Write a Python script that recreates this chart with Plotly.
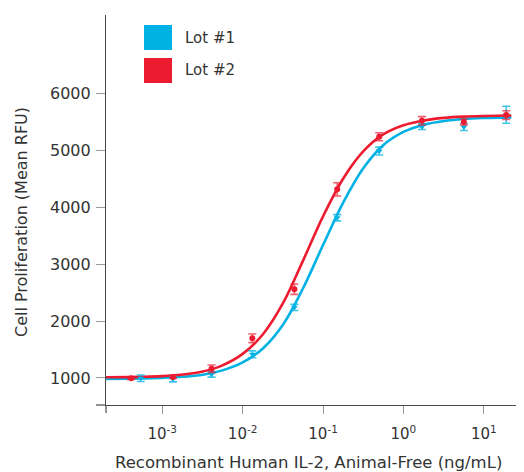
import plotly.graph_objects as go

# ---------------- data ----------------
series_names = ["Lot #1", "Lot #2"]
series_colors = ["#00b2e3", "#ed1b2f"]
error_colors = ["rgba(0,178,227,0.75)", "rgba(237,27,47,0.7)"]

lot1_conc = [0.00054, 0.00136, 0.0041, 0.0132, 0.044, 0.15, 0.5, 1.7, 5.65, 19.0]
lot1_rfu = [995, 982, 1065, 1417, 2243, 3819, 4991, 5419, 5415, 5630]
lot1_err = [58, 50, 50, 60, 55, 55, 70, 50, 62, 150]

lot2_conc = [0.00041, 0.00136, 0.0041, 0.0132, 0.044, 0.15, 0.5, 1.7, 5.65, 19.0]
lot2_rfu = [995, 1018, 1163, 1698, 2561, 4318, 5243, 5523, 5502, 5625]
lot2_err = [20, 25, 65, 76, 91, 117, 70, 73, 53, 76]

curve_conc = [0.0002, 0.00056, 0.001, 0.0018, 0.0032, 0.0056, 0.01, 0.018, 0.032,
              0.056, 0.1, 0.18, 0.32, 0.56, 1.0, 1.8, 3.2, 5.6, 10.0, 22.0]
lot1_curve = [985, 992, 1002, 1021, 1058, 1134, 1274, 1524, 1945, 2569, 3338,
              4096, 4697, 5094, 5328, 5455, 5521, 5555, 5572, 5583]
lot2_curve = [1012, 1020, 1032, 1060, 1114, 1222, 1424, 1774, 2324, 3056, 3843,
              4518, 4993, 5283, 5445, 5530, 5575, 5597, 5608, 5616]

x_tick_vals = [0.001, 0.01, 0.1, 1, 10]
x_tick_text = ["10<sup>-3</sup>", "10<sup>-2</sup>", "10<sup>-1</sup>", "10<sup>0</sup>", "10<sup>1</sup>"]
y_tick_vals = [1000, 2000, 3000, 4000, 5000, 6000]

x_title = "Recombinant Human IL-2, Animal-Free (ng/mL)"
y_title = "Cell Proliferation (Mean RFU)"

# ---------------- figure ----------------
FONT = "'DejaVu Sans', Verdana, sans-serif"
TXT = "#333333"
AX = "#4a4a4a"

fig = go.Figure()

series = [
    (lot1_conc, lot1_rfu, lot1_err, lot1_curve, "triangle-down"),
    (lot2_conc, lot2_rfu, lot2_err, lot2_curve, "circle"),
]

for i, (xc, yv, ye, yc, sym) in enumerate(series):
    fig.add_trace(go.Scatter(
        x=curve_conc, y=yc, mode="lines",
        line=dict(color=series_colors[i], width=2.6, shape="spline", smoothing=1.0),
        showlegend=False, hoverinfo="skip", name=series_names[i] + " fit",
    ))
for i, (xc, yv, ye, yc, sym) in enumerate(series):
    fig.add_trace(go.Scatter(
        x=xc, y=yv, mode="markers", name=series_names[i],
        marker=dict(color=series_colors[i], size=6, symbol=sym),
        error_y=dict(type="data", array=ye, visible=True,
                     color=error_colors[i], thickness=1.6, width=4),
        showlegend=False,
    ))

# geometry: the page body adds an 8px offset, so work in screen px and subtract it
OFF = 8
W, H = 524 - OFF, 472 - OFF
plot_left, plot_right, plot_top, plot_bottom = 106, 524, 15, 405
ml = plot_left - OFF
mt = plot_top - OFF
mr = (524 - plot_right)
mb = H - (plot_bottom - OFF)
pw, ph = plot_right - plot_left, plot_bottom - plot_top

def px_x(px):
    return (px - plot_left) / pw

def px_y(py):
    return 1 - (py - plot_top) / ph

shapes = []
annotations = []
# legend swatches
for i, name in enumerate(series_names):
    top = 25 + i * 33
    shapes.append(dict(type="rect", xref="paper", yref="paper",
                       x0=px_x(144), x1=px_x(172), y0=px_y(top + 25), y1=px_y(top),
                       fillcolor=series_colors[i], line=dict(width=0), layer="above"))
    annotations.append(dict(xref="paper", yref="paper", x=px_x(183), y=px_y(top + 12.5),
                            text=name, showarrow=False, xanchor="left", yanchor="middle",
                            font=dict(family=FONT, size=15, color=TXT)))

# axis titles
annotations.append(dict(xref="paper", yref="paper", x=px_x(308), y=px_y(463),
                        text=x_title, showarrow=False, xanchor="center", yanchor="middle",
                        font=dict(family=FONT, size=16.5, color=TXT)))
annotations.append(dict(xref="paper", yref="paper", x=px_x(21), y=px_y(222),
                        text=y_title, showarrow=False, xanchor="center", yanchor="middle",
                        textangle=-90, font=dict(family=FONT, size=16, color=TXT)))

# little axis overhangs at the origin
shapes.append(dict(type="line", xref="paper", yref="paper", x0=0, x1=0,
                   y0=0, y1=px_y(413), line=dict(color=AX, width=1.2)))
shapes.append(dict(type="line", xref="paper", yref="paper", x0=px_x(96), x1=0,
                   y0=0, y1=0, line=dict(color=AX, width=1.2)))

fig.update_layout(
    width=W, height=H,
    margin=dict(l=ml, r=mr, t=mt, b=mb, pad=0),
    paper_bgcolor="white", plot_bgcolor="rgba(0,0,0,0)",
    font=dict(family=FONT, size=15, color=TXT),
    shapes=shapes, annotations=annotations,
    showlegend=False,
)

fig.update_xaxes(
    type="log", range=[-3.70, 1.50], automargin=False,
    tickvals=x_tick_vals, ticktext=x_tick_text,
    ticks="outside", ticklen=8, tickwidth=1, tickcolor="#9a9a9a",
    ticklabelstandoff=7,
    showline=True, linecolor=AX, linewidth=1.2, mirror=False,
    showgrid=False, zeroline=False,
    tickfont=dict(family=FONT, size=15, color=TXT),
)
fig.update_yaxes(
    range=[525, 7384], automargin=False,
    tickvals=y_tick_vals,
    ticks="outside", ticklen=9, tickwidth=1, tickcolor="#9a9a9a",
    ticklabelstandoff=2,
    showline=True, linecolor=AX, linewidth=1.2, mirror=False,
    showgrid=False, zeroline=False,
    tickfont=dict(family=FONT, size=16, color=TXT),
)

fig.write_html("out.html")
